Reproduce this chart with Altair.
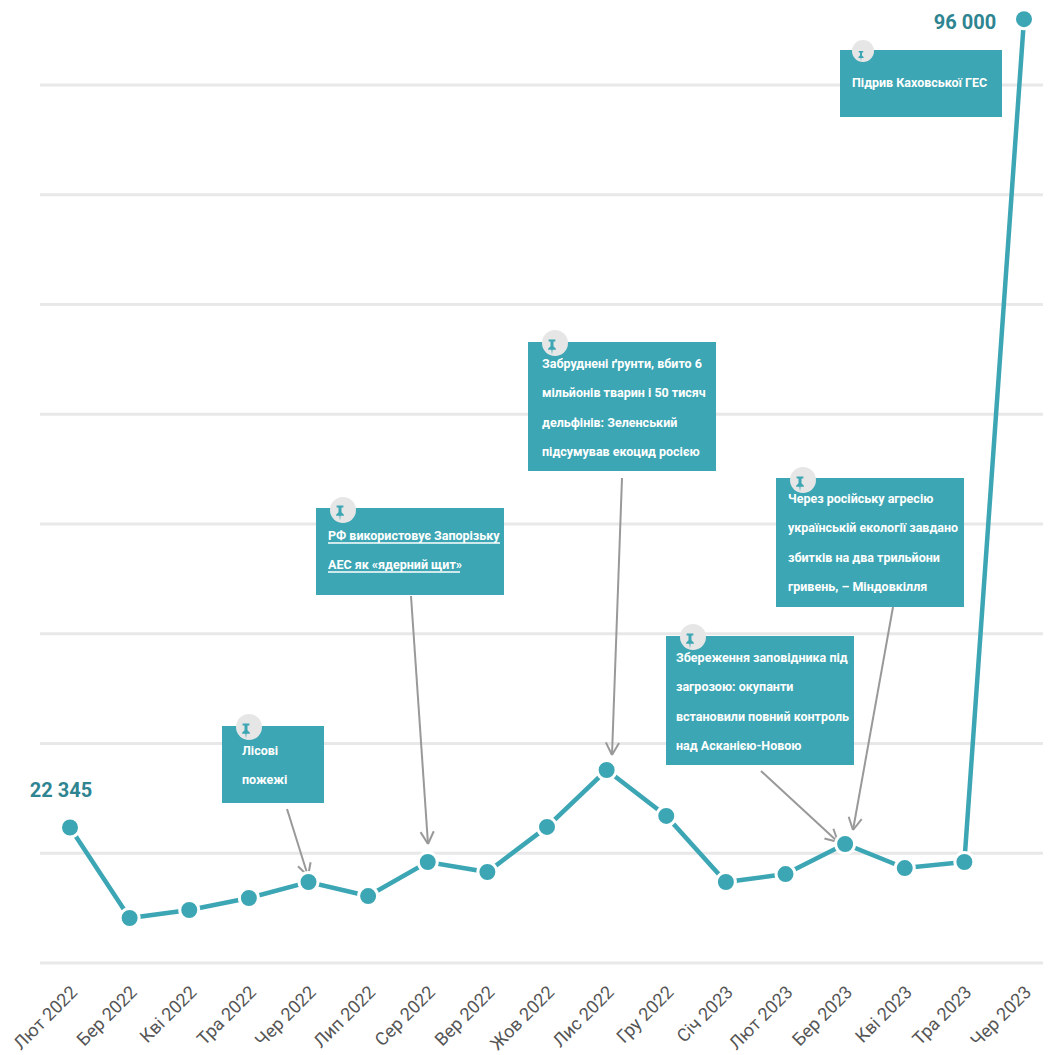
import math
import altair as alt
import pandas as pd

months = ["Лют 2022", "Бер 2022", "Кві 2022", "Тра 2022", "Чер 2022", "Лип 2022", "Сер 2022", "Вер 2022",
          "Жов 2022", "Лис 2022", "Гру 2022", "Січ 2023", "Лют 2023", "Бер 2023", "Кві 2023", "Тра 2023", "Чер 2023"]
values = [22345, 14100, 14830, 15920, 17380, 16100, 19200, 18290,
          22400, 27585, 23400, 17380, 18100, 20840, 18650, 19200, 96000]
grid_values = [10000, 20000, 30000, 40000, 50000, 60000, 70000, 80000, 90000]

TEAL = "#3ca6b4"
DARK = "#2e8591"
GREY = "#999999"
FONT = "Roboto, sans-serif"
PIN = "M-.45,-1H.45V-.72H.2V-.1L.52,.22V.38H.08L0,1L-.08,.38H-.52V.22L-.2,-.1V-.72H-.45Z"

annotations = [
    {"box": (222, 324, 726, 803), "pin": (249, 727, 13), "glyph": (246, 731, 225), "left": 242, "base": 755,
     "text": ["Лісові", "пожежі"], "arrow": (287, 809, 308, 876), "under": []},
    {"box": (316, 504, 508, 595), "pin": (343, 510, 13), "glyph": (340, 513, 225), "left": 328, "base": 540,
     "text": ["РФ використовує Запорізьку", "АЕС як «ядерний щит»"], "arrow": (411, 596, 428, 844),
     "under": [(328, 500, 543), (328, 460, 572)]},
    {"box": (528, 716, 342, 471), "pin": (555, 343, 13), "glyph": (552, 347, 225), "left": 542, "base": 368,
     "text": ["Забруднені ґрунти, вбито 6", "мільйонів тварин і 50 тисяч", "дельфінів: Зеленський",
              "підсумував екоцид росією"], "arrow": (622, 478, 612, 755), "under": []},
    {"box": (776, 964, 478, 607), "pin": (803, 480, 13), "glyph": (800, 484, 225), "left": 788, "base": 503,
     "text": ["Через російську агресію", "українській екології завдано", "збитків на два трильйони",
              "гривень, – Міндовкілля"], "arrow": (893, 607, 853, 830), "under": []},
    {"box": (666, 854, 636, 765), "pin": (693, 637, 13), "glyph": (690, 641, 225), "left": 676, "base": 662,
     "text": ["Збереження заповідника під", "загрозою: окупанти", "встановили повний контроль",
              "над Асканією-Новою"], "arrow": (761, 771, 838, 842), "under": []},
    {"box": (840, 1002, 50, 117), "pin": (863, 51, 11), "glyph": (861, 56, 100), "left": 852, "base": 87,
     "text": ["Підрив Каховської ГЕС"], "arrow": None, "under": []},
]

df = pd.DataFrame({"month": months, "value": values})
grid_df = pd.DataFrame({"value": grid_values})
one = pd.DataFrame({"n": [0]})


def px(v):
    return alt.value(v - 40)


def py(v):
    return alt.value(v - 8)


def seg(x0, y0, x1, y1, color=GREY, width=2):
    return alt.Chart(one).mark_rule(color=color, strokeWidth=width).encode(
        x=px(x0), x2=px(x1), y=py(y0), y2=py(y1))


x_enc = alt.X("month:N", sort=None, title=None,
              scale=alt.Scale(type="point", range=[30, 984], padding=0),
              axis=alt.Axis(domain=False, ticks=False, grid=False, labelAngle=315, labelAlign="right",
                            labelBaseline="top", labelFont=FONT, labelFontSize=18, labelColor="#555555",
                            labelPadding=20, labelOffset=-2, labelOverlap=False, labelBound=False,
                            labelFlush=False))
y_enc = alt.Y("value:Q", title=None,
              scale=alt.Scale(domain=[10000, 97016], nice=False, zero=False),
              axis=alt.Axis(domain=False, ticks=False, labels=False, grid=False))

layers = [
    alt.Chart(grid_df).mark_rule(color="#e8e8e8", strokeWidth=3).encode(
        y=y_enc, x=alt.value(0), x2=alt.value(1003)),
    alt.Chart(df).mark_line(color=TEAL, strokeWidth=4.5).encode(x=x_enc, y="value:Q"),
]

for a in annotations:
    x0, x1, y0, y1 = a["box"]
    layers.append(alt.Chart(one).mark_rect(color=TEAL).encode(x=px(x0), x2=px(x1), y=py(y0), y2=py(y1)))
    cx, cy, r = a["pin"]
    layers.append(alt.Chart(one).mark_circle(color="#e6e6e6", opacity=1, size=4 * r * r)
                  .encode(x=px(cx), y=py(cy)))
    gx, gy, gs = a["glyph"]
    layers.append(alt.Chart(one).mark_point(shape=PIN, filled=True, color=TEAL, opacity=1, size=gs)
                  .encode(x=px(gx), y=py(gy)))
    layers.append(alt.Chart(one).mark_text(text=a["text"], align="left", baseline="alphabetic", lineHeight=29.3,
                                           font=FONT, fontSize=12.5, fontWeight="bold", color="white")
                  .encode(x=px(a["left"]), y=py(a["base"])))
    for ux0, ux1, uy in a["under"]:
        layers.append(seg(ux0, uy, ux1, uy, color="white", width=1.5))
    if a["arrow"]:
        ax0, ay0, ax1, ay1 = a["arrow"]
        layers.append(seg(ax0, ay0, ax1, ay1))
        ang = math.atan2(ay1 - ay0, ax1 - ax0)
        for d in (2.65, -2.65):
            layers.append(seg(ax1, ay1, ax1 + 14 * math.cos(ang + d), ay1 + 14 * math.sin(ang + d)))

layers.append(alt.Chart(df).mark_circle(color=TEAL, opacity=1, size=361, stroke="white", strokeWidth=3)
              .encode(x=alt.X("month:N", sort=None), y="value:Q"))

first = df.iloc[[0]].assign(label="22 345")
last = df.iloc[[-1]].assign(label="96 000")
label_style = dict(font=FONT, fontSize=20, fontWeight="bold", color=DARK, align="center", baseline="middle")
layers.append(alt.Chart(first).mark_text(dx=-9, dy=-37, **label_style)
              .encode(x=alt.X("month:N", sort=None), y="value:Q", text="label:N"))
layers.append(alt.Chart(last).mark_text(dx=-59, dy=4, **label_style)
              .encode(x=alt.X("month:N", sort=None), y="value:Q", text="label:N"))

chart = alt.layer(*layers).properties(
    width=1003, height=955,
    autosize=alt.AutoSizeParams(type="none"),
    padding={"left": 32, "top": 0, "right": 0, "bottom": 92},
    background="white",
).configure_view(stroke=None)

chart.save("out.html", embed_options={"renderer": "svg", "actions": False})
